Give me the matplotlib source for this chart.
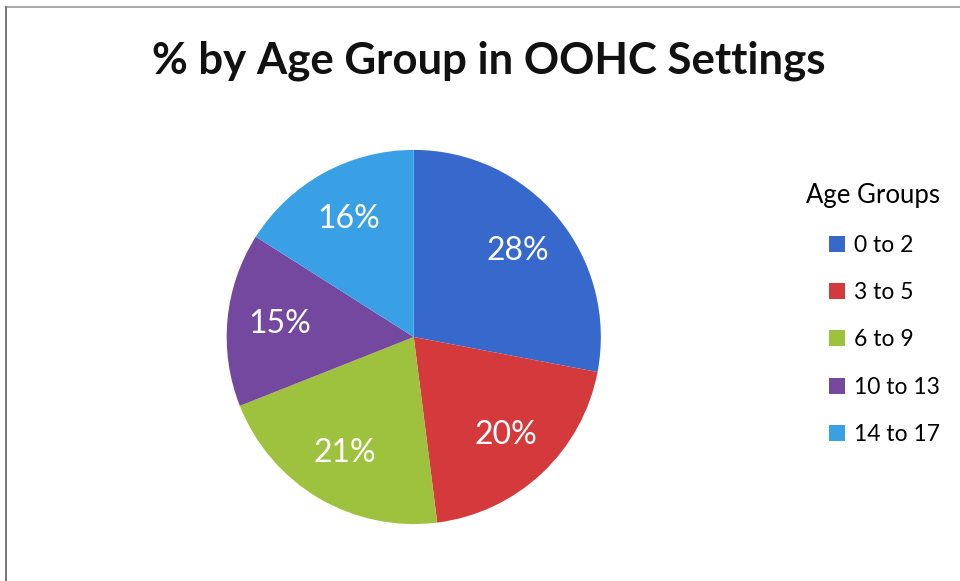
import matplotlib
matplotlib.use("Agg")
import matplotlib.pyplot as plt
from matplotlib.lines import Line2D

# data
groups = ["0 to 2", "3 to 5", "6 to 9", "10 to 13", "14 to 17"]
shares = [28, 20, 21, 15, 16]
colors = ["#3768CC", "#D43A3B", "#9EC23E", "#7548A0", "#3AA0E6"]

plt.rcParams["font.family"] = ["Lato", "DejaVu Sans"]

fig = plt.figure(figsize=(9.6, 5.81), dpi=100)

# chart frame (gray border, cut off at right/bottom like the scan)
fig.add_artist(Line2D([0.006, 1.0], [0.988, 0.988], color="#9a9a9a", lw=1.2,
                      transform=fig.transFigure))
fig.add_artist(Line2D([0.006, 0.006], [0.0, 0.988], color="#777777", lw=1.4,
                      transform=fig.transFigure))

fig.text(0.509, 0.895, "% by Age Group in OOHC Settings", ha="center", va="center",
         fontsize=31.5, fontweight="bold", color="#111111")

ax = fig.add_axes([0.236, 0.098, 0.390, 0.644])
wedges, _, autotexts = ax.pie(
    shares, colors=colors, startangle=90, counterclock=False,
    autopct=lambda p: f"{p:.0f}%", pctdistance=0.72,
    wedgeprops=dict(linewidth=0),
    textprops=dict(color="white", fontsize=23),
)
ax.set_xlim(-1, 1)
ax.set_ylim(-1, 1)
ax.set_aspect("equal")

leg = fig.legend(wedges, groups, title="Age Groups", loc="upper left",
                 bbox_to_anchor=(0.818, 0.72), frameon=False,
                 fontsize=16.5, title_fontsize=18.5,
                 handlelength=0.7, handleheight=0.7, handletextpad=0.4,
                 labelspacing=1.15)
leg._legend_box.align = "right"

fig.savefig("out.png", dpi=100, facecolor="white")
